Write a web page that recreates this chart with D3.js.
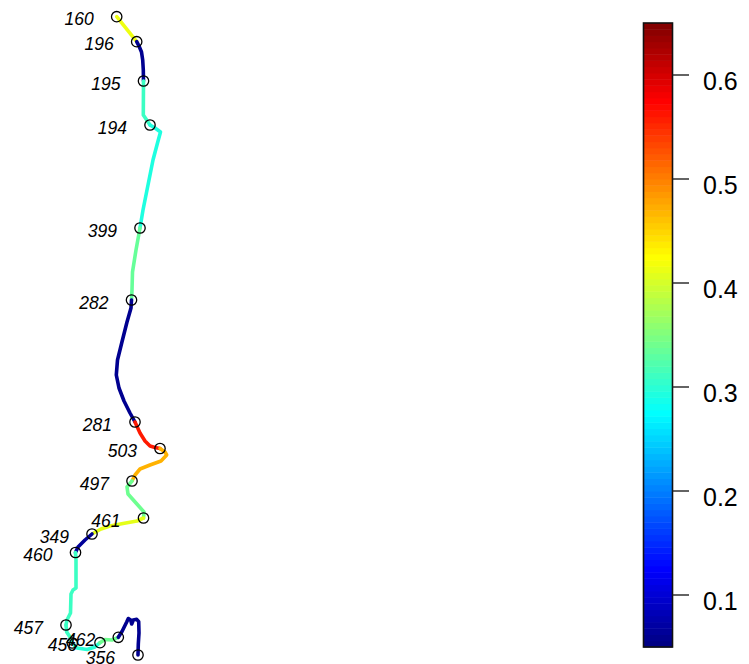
<!DOCTYPE html>
<html>
<head>
<meta charset="utf-8">
<script src="https://cdn.jsdelivr.net/npm/d3@7"></script>
<style>
  html, body { margin: 0; padding: 0; background: #fff; }
  svg { display: block; }
</style>
</head>
<body>
<svg id="chart" width="749" height="664"></svg>
<script>
// Sampling stations along the channel (map units, km east / km north)
const stationIds   = ["160", "196", "195", "194", "399", "282", "281", "503", "497", "461", "349", "460", "457", "",    "456", "462", "356"];
const stationEast  = [23.34, 27.34, 28.70, 30.00, 28.00, 26.30, 27.00, 32.00, 26.40, 28.70, 18.40, 15.10, 13.20, 14.46, 20.00, 23.66, 27.60];
const stationNorth = [129.46,124.46,116.60,107.80, 87.20, 72.80, 48.40, 43.10, 36.60, 29.20, 26.00, 22.30,  7.80,  4.20,  4.26,  5.34,  1.80];

// Value carried by each reach between consecutive stations
const reachValues = [0.415, 0.06, 0.31, 0.293, 0.335, 0.06, 0.56, 0.47, 0.34, 0.41, 0.065, 0.31, 0.31, 0.30, 0.34, 0.06];

// Intermediate channel vertices of each reach [east, north]
const reachBends = [
  [],
  [[27.86,123.46],[28.30,122.40],[28.54,120.80],[28.66,118.80]],
  [[28.66,109.80],[29.20,109.00]],
  [[31.00,107.20],[32.10,106.40],[31.50,104.20],[30.60,100.80],[29.60,95.80],[28.60,90.80]],
  [[27.20,82.80],[26.50,78.40],[26.40,74.80]],
  [[26.20,71.20],[25.40,68.40],[24.34,64.20],[23.50,60.80],[23.26,57.80],[23.80,55.20],[24.80,52.60],[26.00,50.20]],
  [[28.00,46.20],[29.00,44.60],[30.00,43.60],[31.00,43.30]],
  [[33.00,42.40],[33.34,41.80],[32.20,40.60],[30.00,39.80],[28.00,39.00],[27.00,37.80]],
  [[25.40,35.40],[25.60,34.00],[27.20,32.20],[28.80,30.40]],
  [[27.40,28.60],[24.60,28.10],[22.00,27.60],[20.20,27.00]],
  [[17.00,24.80],[15.60,23.40]],
  [[15.20,20.80],[15.20,15.20],[14.60,14.80],[14.20,14.00],[14.10,10.20],[13.40,8.80]],
  [[13.34,6.40],[14.00,5.40]],
  [[15.40,3.20],[17.40,2.90],[19.00,3.40]],
  [[21.00,4.90],[22.40,4.80]],
  [[24.40,6.50],[25.34,8.40],[25.66,9.10],[26.14,8.80],[26.34,8.00],[26.66,8.80],[27.34,8.94],[27.74,8.46],[27.80,6.20],[27.66,4.00]]
];

// Colour key
const legendTicks = [0.1, 0.2, 0.3, 0.4, 0.5, 0.6];
const legendRange = [0.05, 0.65];
const jetColors = ["#00007F", "#0000FF", "#007FFF", "#00FFFF", "#7FFF7F", "#FFFF00", "#FF7F00", "#FF0000", "#7F0000"];

const svg = d3.select("#chart");

const x = d3.scaleLinear().domain([0, 149.8]).range([0, 749]);
const y = d3.scaleLinear().domain([0, 132.8]).range([664, 0]);

const jetStops = jetColors.map((c, i) => legendRange[0] + i * (legendRange[1] - legendRange[0]) / (jetColors.length - 1));
const color = d3.scaleLinear().domain(jetStops).range(jetColors).interpolate(d3.interpolateRgb).clamp(true);

const stations = stationIds.map((id, i) => ({ id, east: stationEast[i], north: stationNorth[i] }));
const reaches = reachValues.map((v, i) => ({
  value: v,
  pts: [[stations[i].east, stations[i].north], ...reachBends[i], [stations[i + 1].east, stations[i + 1].north]]
}));

const line = d3.line().x(d => x(d[0])).y(d => y(d[1]));

// Channel reaches
svg.append("g")
  .selectAll("path")
  .data(reaches)
  .join("path")
  .attr("d", d => line(d.pts))
  .attr("fill", "none")
  .attr("stroke", d => color(d.value))
  .attr("stroke-width", 3.6)
  .attr("stroke-linecap", "round")
  .attr("stroke-linejoin", "round");

// Station markers
svg.append("g")
  .selectAll("circle")
  .data(stations)
  .join("circle")
  .attr("cx", d => x(d.east))
  .attr("cy", d => y(d.north))
  .attr("r", 5.2)
  .attr("fill", "none")
  .attr("stroke", "#000")
  .attr("stroke-width", 1.3);

// Station labels
svg.append("g")
  .selectAll("text")
  .data(stations.filter(d => d.id !== ""))
  .join("text")
  .attr("x", d => x(d.east) - 23)
  .attr("y", d => y(d.north) + 8.5)
  .attr("text-anchor", "end")
  .attr("font-family", "'Liberation Sans', Arial, Helvetica, sans-serif")
  .attr("font-style", "italic")
  .attr("font-size", 17.5)
  .attr("fill", "#000")
  .text(d => d.id);

// Colour bar
const barX = 643.5, barW = 29;
const barY = d3.scaleLinear().domain(legendRange).range([647, 23]);
const nBands = 100;
const bands = d3.range(nBands).map(i => {
  const lo = legendRange[0] + i * (legendRange[1] - legendRange[0]) / nBands;
  const hi = legendRange[0] + (i + 1) * (legendRange[1] - legendRange[0]) / nBands;
  return { lo, hi, mid: (lo + hi) / 2 };
});
const bar = svg.append("g");
bar.selectAll("rect.band")
  .data(bands)
  .join("rect")
  .attr("class", "band")
  .attr("x", barX)
  .attr("width", barW)
  .attr("y", d => barY(d.hi))
  .attr("height", d => barY(d.lo) - barY(d.hi) + 0.5)
  .attr("fill", d => color(d.mid));
bar.append("rect")
  .attr("x", barX)
  .attr("y", barY(legendRange[1]))
  .attr("width", barW)
  .attr("height", barY(legendRange[0]) - barY(legendRange[1]))
  .attr("fill", "none")
  .attr("stroke", "#111")
  .attr("stroke-width", 1.6);

bar.selectAll("line.tick")
  .data(legendTicks)
  .join("line")
  .attr("class", "tick")
  .attr("x1", barX + barW)
  .attr("x2", barX + barW + 16.5)
  .attr("y1", d => barY(d))
  .attr("y2", d => barY(d))
  .attr("stroke", "#222")
  .attr("stroke-width", 1.4);

bar.selectAll("text.tl")
  .data(legendTicks)
  .join("text")
  .attr("class", "tl")
  .attr("x", 703)
  .attr("y", d => barY(d) + 14.5)
  .attr("font-family", "'Liberation Sans', Arial, Helvetica, sans-serif")
  .attr("font-size", 25)
  .attr("fill", "#000")
  .text(d => d3.format(".1f")(d));
</script>
</body>
</html>
